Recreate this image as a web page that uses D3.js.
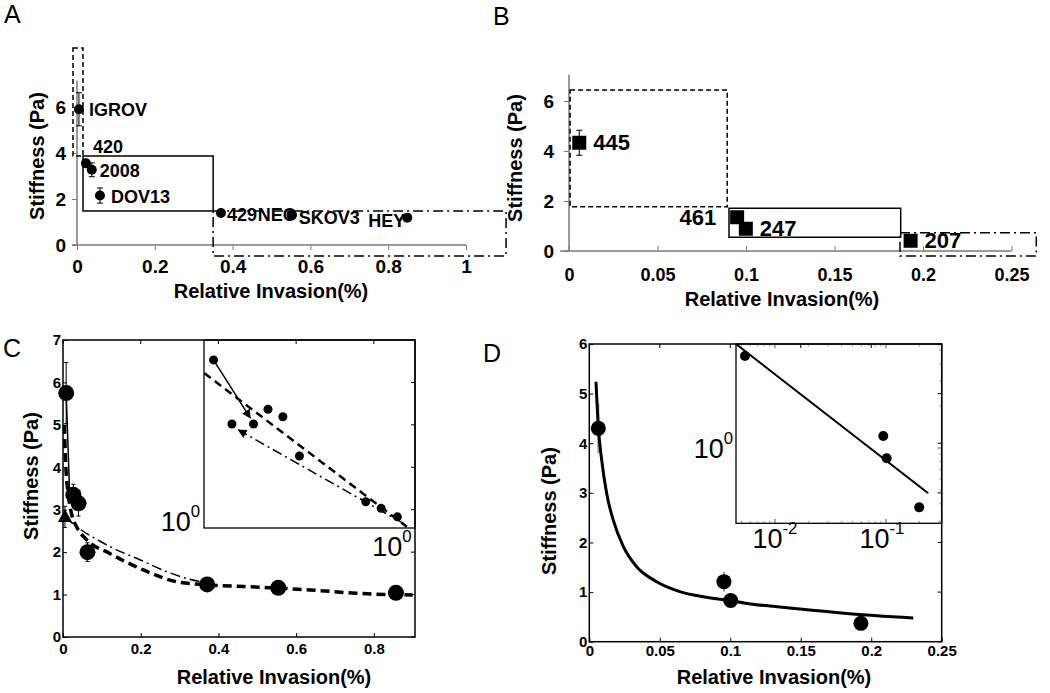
<!DOCTYPE html>
<html><head><meta charset="utf-8">
<script src="https://cdn.jsdelivr.net/npm/d3@7"></script>
<style>body{margin:0;background:#fff} svg{display:block}</style>
</head><body><svg id="c" width="1050" height="693"></svg>
<script>
// ================= DATA =================
// Panel A
const aNames = ["IGROV","420","2008","DOV13","429","NEO","SKOV3","HEY"];
const aInvasion = [0.005,0.023,0.038,0.059,0.37,0.552,0.552,0.849];
const aStiffness = [5.9,3.55,3.27,2.15,1.39,1.3,1.3,1.19];
const aError = [0.72,0,0.3,0.33,0,0,0,0];
const aXTicks = [0,0.2,0.4,0.6,0.8,1];
const aXTickLabels = ["0","0.2","0.4","0.6","0.8","1"];
const aYTicks = [0,2,4,6];
const aRegionX0 = [-0.0103,0.0154,0.35];
const aRegionX1 = [0.0154,0.35,1.103];
const aRegionY0 = [3.87,1.48,-0.48];
const aRegionY1 = [8.57,3.87,1.48];
// Panel B
const bNames = ["445","461","247","207"];
const bInvasion = [0.0058,0.095,0.0999,0.193];
const bStiffness = [4.33,1.35,0.89,0.41];
const bError = [0.5,0,0,0];
const bXTicks = [0,0.05,0.1,0.15,0.2,0.25];
const bXTickLabels = ["0","0.05","0.1","0.15","0.2","0.25"];
const bYTicks = [0,2,4,6];
const bRegionX0 = [0.0006,0.0904,0.187];
const bRegionX1 = [0.0894,0.1874,0.264];
const bRegionY0 = [1.77,0.55,-0.2];
const bRegionY1 = [6.44,1.71,0.73];
// Panel C
const cInvasion = [0.0082,0.0265,0.040,0.063,0.371,0.554,0.857];
const cStiffness = [5.75,3.35,3.15,2.0,1.24,1.16,1.04];
const cError = [0.72,0.25,0.3,0.22,0.08,0.06,0.06];
const cTriInvasion = [0.005];
const cTriStiffness = [2.83];
const cTriError = [0.25];
const cFitDashX = [0.004,0.005,0.008,0.013,0.022,0.035,0.06,0.12,0.207,0.293,0.37,0.464,0.636,0.756,0.9];
const cFitDashY = [5.0,4.6,3.9,3.4,2.9,2.6,2.3,1.97,1.58,1.30,1.23,1.19,1.11,1.03,0.99];
const cFitDashDotX = [0.006,0.014,0.035,0.087,0.13,0.198,0.267,0.318,0.37];
const cFitDashDotY = [2.83,2.76,2.60,2.30,2.09,1.82,1.54,1.38,1.27];
const cSolidX = [0.0082,0.017];
const cSolidY = [5.75,3.4];
const cXTicks = [0,0.2,0.4,0.6,0.8];
const cXTickLabels = ["0","0.2","0.4","0.6","0.8"];
const cYTicks = [0,1,2,3,4,5,6,7];
// Panel C inset (log-log)
const ciInvasion = [0.00516,0.00845,0.01507,0.0222,0.0331,0.0516,0.305,0.46,0.711];
const ciStiffness = [7.1,3.24,3.24,3.88,3.54,2.19,1.25,1.154,1.04];
const ciSolidX = [0.00516,0.0138];
const ciSolidY = [7.1,3.49];
const ciDashX = [0.00404,0.916];
const ciDashY = [6.03,0.921];
const ciDashDotX = [0.836,0.01007];
const ciDashDotY = [0.960,3.01];
// Panel D
const dInvasion = [0.0064,0.0955,0.1003,0.1927];
const dStiffness = [4.3,1.21,0.83,0.37];
const dError = [0.5,0.2,0,0];
const dCurveX = [0.00475,0.0064,0.0088,0.0123,0.017,0.0241,0.0336,0.0478,0.0643,0.0833,0.0998,0.114,0.135,0.16,0.1826,0.2298];
const dCurveY = [5.24,4.33,3.66,2.99,2.45,1.92,1.51,1.21,1.01,0.895,0.827,0.76,0.70,0.63,0.57,0.48];
const dXTicks = [0,0.05,0.1,0.15,0.2,0.25];
const dXTickLabels = ["0","0.05","0.1","0.15","0.2","0.25"];
const dYTicks = [0,1,2,3,4,5,6];
// Panel D inset (log-log)
const diInvasion = [0.00537,0.0946,0.1015,0.1995];
const diStiffness = [4.54,1.218,0.844,0.377];
const diFitX = [0.00446,0.2405];
const diFitY = [5.53,0.475];

const xTitle = "Relative Invasion(%)";
const yTitle = "Stiffness (Pa)";

// ================= DRAWING =================
const FONT = "'Liberation Sans', Arial, Helvetica, sans-serif";
const svg = d3.select("#c");
svg.append("rect").attr("width",1050).attr("height",693).attr("fill","#fff");

const defs = svg.append("defs");
defs.append("marker").attr("id","arr").attr("viewBox","0 0 10 10").attr("refX",9).attr("refY",5)
  .attr("markerWidth",6).attr("markerHeight",6).attr("orient","auto")
  .append("path").attr("d","M0,0 L10,5 L0,10 z").attr("fill","#000");

function styleAxis(g, fs, color) {
  g.select(".domain").remove();
  g.selectAll(".tick line").attr("stroke", color).attr("stroke-width", 1);
  g.selectAll(".tick text").attr("font-family", FONT).attr("font-size", fs)
    .attr("font-weight", "bold").attr("fill", "#000");
}
function txt(x, y, s, fs, opts = {}) {
  const t = svg.append("text").attr("x", x).attr("y", y).text(s)
    .attr("font-family", FONT).attr("font-size", fs)
    .attr("font-weight", opts.weight || "bold")
    .attr("text-anchor", opts.anchor || "middle")
    .attr("dominant-baseline", opts.base || "central")
    .attr("fill", "#000");
  if (opts.rotate) t.attr("transform", `rotate(-90,${x},${y})`);
  return t;
}
function supText(x, y, base, sup, fs, anchor) {
  const t = svg.append("text").attr("x", x).attr("y", y)
    .attr("font-family", FONT).attr("font-size", fs).attr("text-anchor", anchor)
    .attr("dominant-baseline", "central").attr("fill", "#000");
  t.append("tspan").text(base);
  t.append("tspan").text(sup).attr("font-size", fs * 0.62).attr("dy", -fs * 0.42);
  return t;
}
function errBars(g, xs, ys, es, x, y, cap, color, w) {
  xs.forEach((v, i) => {
    if (!es[i]) return;
    g.append("line").attr("x1", x(v)).attr("x2", x(v)).attr("y1", y(ys[i] - es[i])).attr("y2", y(ys[i] + es[i]))
      .attr("stroke", color).attr("stroke-width", w);
    if (cap) [ys[i] - es[i], ys[i] + es[i]].forEach(e =>
      g.append("line").attr("x1", x(v) - cap).attr("x2", x(v) + cap).attr("y1", y(e)).attr("y2", y(e))
        .attr("stroke", color).attr("stroke-width", w));
  });
}
function lineXY(g, xs, ys, x, y, opts) {
  const p = g.append("path").datum(xs.map((v, i) => [v, ys[i]]))
    .attr("d", d3.line().x(d => x(d[0])).y(d => y(d[1])).curve(opts.curve || d3.curveLinear))
    .attr("fill", "none").attr("stroke", "#000").attr("stroke-width", opts.w || 1.5);
  if (opts.dash) p.attr("stroke-dasharray", opts.dash);
  if (opts.marker) p.attr("marker-end", "url(#arr)");
  return p;
}
const AXG = "#7a7a7a";

// ---------- Panel A ----------
{
  const g = svg.append("g");
  const x = d3.scaleLinear().domain([0, 1]).range([77, 466]);
  const y = d3.scaleLinear().domain([0, 6]).range([245, 107]);
  g.append("g").attr("transform", `translate(${x(0)},0)`)
    .call(d3.axisLeft(y).tickValues(aYTicks).tickSize(5).tickPadding(6).tickFormat(d3.format("d")))
    .call(a => styleAxis(a, 19, AXG));
  g.append("g").attr("transform", `translate(0,${y(0)})`)
    .call(d3.axisBottom(x).tickValues(aXTicks).tickSize(5).tickPadding(10).tickFormat((d, i) => aXTickLabels[i]))
    .call(a => styleAxis(a, 19, AXG));
  g.append("line").attr("x1", x(0)).attr("x2", x(0)).attr("y1", y(0)).attr("y2", y(7.15)).attr("stroke", AXG).attr("stroke-width", 1.5);
  g.append("line").attr("x1", x(-0.013)).attr("x2", x(1)).attr("y1", y(0)).attr("y2", y(0)).attr("stroke", AXG).attr("stroke-width", 1.5);
  const dashes = ["5,3", null, "10,4,2,4"];
  aRegionX0.forEach((v, i) => {
    const r = g.append("rect").attr("x", x(v)).attr("y", y(aRegionY1[i]))
      .attr("width", x(aRegionX1[i]) - x(v)).attr("height", y(aRegionY0[i]) - y(aRegionY1[i]))
      .attr("fill", "none").attr("stroke", "#000").attr("stroke-width", 1.5);
    if (dashes[i]) r.attr("stroke-dasharray", dashes[i]);
  });
  errBars(g, aInvasion, aStiffness, aError, x, y, 3, "#000", 1);
  g.selectAll("circle.a").data(aInvasion).join("circle").attr("cx", d => x(d)).attr("cy", (d, i) => y(aStiffness[i])).attr("r", 5).attr("fill", "#000");
  const ldx = [10, 7, 8, 11, 6, 5, 7, -2], ldy = [1, -16, 1, 1, 2, 0, 3, 3];
  const lan = ["start", "start", "start", "start", "start", "end", "start", "end"];
  aNames.forEach((n, i) => txt(x(aInvasion[i]) + ldx[i], y(aStiffness[i]) + ldy[i], n, 18, { anchor: lan[i] }));
  txt(271, 291, xTitle, 20);
  txt(37, 156, yTitle, 20, { rotate: true });
  txt(4, 23, "A", 25, { weight: "normal", anchor: "start", base: "auto" });
}

// ---------- Panel B ----------
{
  const g = svg.append("g");
  const x = d3.scaleLinear().domain([0, 0.25]).range([569, 1011.5]);
  const y = d3.scaleLinear().domain([0, 6]).range([251, 101]);
  g.append("g").attr("transform", `translate(${x(0)},0)`)
    .call(d3.axisLeft(y).tickValues(bYTicks).tickSize(5).tickPadding(10).tickFormat(d3.format("d")))
    .call(a => styleAxis(a, 19, AXG));
  g.append("g").attr("transform", `translate(0,${y(0)})`)
    .call(d3.axisBottom(x).tickValues(bXTicks).tickSize(-5).tickPadding(17).tickFormat((d, i) => bXTickLabels[i]))
    .call(a => styleAxis(a, 18, AXG));
  g.append("line").attr("x1", x(0)).attr("x2", x(0)).attr("y1", y(0)).attr("y2", y(7.05)).attr("stroke", AXG).attr("stroke-width", 1.5);
  g.append("line").attr("x1", x(-0.005)).attr("x2", x(0.25)).attr("y1", y(0)).attr("y2", y(0)).attr("stroke", AXG).attr("stroke-width", 1.5);
  const dashes = ["5,3", null, "10,4,2,4"];
  bRegionX0.forEach((v, i) => {
    const r = g.append("rect").attr("x", x(v)).attr("y", y(bRegionY1[i]))
      .attr("width", x(bRegionX1[i]) - x(v)).attr("height", y(bRegionY0[i]) - y(bRegionY1[i]))
      .attr("fill", "none").attr("stroke", "#000").attr("stroke-width", 1.5);
    if (dashes[i]) r.attr("stroke-dasharray", dashes[i]);
  });
  errBars(g, bInvasion, bStiffness, bError, x, y, 3, "#000", 1);
  g.selectAll("rect.pt").data(bInvasion).join("rect").attr("class", "pt")
    .attr("x", d => x(d) - 7).attr("y", (d, i) => y(bStiffness[i]) - 7).attr("width", 14).attr("height", 14).attr("fill", "#000");
  const ldx = [14, -21, 14, 14], ldy = [0, 0, 0, 0], lan = ["start", "end", "start", "start"];
  bNames.forEach((n, i) => txt(x(bInvasion[i]) + ldx[i], y(bStiffness[i]) + ldy[i], n, 22, { anchor: lan[i] }));
  txt(782, 299, xTitle, 20);
  txt(515, 158, yTitle, 20, { rotate: true });
  txt(493, 25, "B", 25, { weight: "normal", anchor: "start", base: "auto" });
}

// ---------- Panel C ----------
{
  const g = svg.append("g");
  const x = d3.scaleLinear().domain([0, 0.906]).range([63, 415]);
  const y = d3.scaleLinear().domain([0, 7]).range([637, 340]);
  g.append("g").attr("transform", `translate(${x(0)},0)`)
    .call(d3.axisLeft(y).tickValues(cYTicks).tickSize(-4).tickPadding(2).tickFormat(d3.format("d")))
    .call(a => styleAxis(a, 15, "#000"));
  g.append("g").attr("transform", `translate(0,${y(0)})`)
    .call(d3.axisBottom(x).tickValues(cXTicks).tickSize(-4).tickPadding(6).tickFormat((d, i) => cXTickLabels[i]))
    .call(a => styleAxis(a, 15, "#000"));
  lineXY(g, cFitDashX, cFitDashY, x, y, { w: 3.5, dash: "9,5", curve: d3.curveMonotoneX });
  lineXY(g, cFitDashDotX, cFitDashDotY, x, y, { w: 1.5, dash: "10,4,2,4", curve: d3.curveMonotoneX });
  lineXY(g, cSolidX, cSolidY, x, y, { w: 1.5 });
  errBars(g, cInvasion, cStiffness, cError, x, y, 2, "#000", 1);
  errBars(g, cTriInvasion, cTriStiffness, cTriError, x, y, 2, "#000", 1);
  g.selectAll("circle.c").data(cInvasion).join("circle").attr("cx", d => x(d)).attr("cy", (d, i) => y(cStiffness[i])).attr("r", 8).attr("fill", "#000");
  g.selectAll("path.tri").data(cTriInvasion).join("path")
    .attr("d", (d, i) => `M${x(d)},${y(cTriStiffness[i]) - 8} L${x(d) + 7},${y(cTriStiffness[i]) + 5} L${x(d) - 7},${y(cTriStiffness[i]) + 5} Z`)
    .attr("fill", "#000");
  // inset
  const xi = d3.scaleLog().domain([0.004, 1.14]).range([204, 415]);
  const yi = d3.scaleLog().domain([0.907, 9.06]).range([528, 340]);
  g.append("rect").attr("x", 204).attr("y", 340).attr("width", 211).attr("height", 188).attr("fill", "#fff");
  const gi = g.append("g");
  gi.append("clipPath").attr("id", "clipC").append("rect").attr("x", 204).attr("y", 340).attr("width", 211).attr("height", 188);
  const gic = gi.append("g").attr("clip-path", "url(#clipC)");
  lineXY(gic, ciDashX, ciDashY, xi, yi, { w: 2.5, dash: "8,5" });
  lineXY(gi, ciDashDotX, ciDashDotY, xi, yi, { w: 1.5, dash: "10,4,2,4", marker: true });
  lineXY(gi, ciSolidX, ciSolidY, xi, yi, { w: 1.5, marker: true });
  gi.selectAll("circle").data(ciInvasion).join("circle").attr("cx", d => xi(d)).attr("cy", (d, i) => yi(ciStiffness[i])).attr("r", 4.5).attr("fill", "#000");
  gi.append("rect").attr("x", 204).attr("y", 340).attr("width", 211).attr("height", 188).attr("fill", "none").attr("stroke", "#000").attr("stroke-width", 1.3);
  supText(200, 522, "10", "0", 27, "end");
  supText(392, 547, "10", "0", 27, "middle");
  g.append("rect").attr("x", 63).attr("y", 340).attr("width", 352).attr("height", 297).attr("fill", "none").attr("stroke", "#000").attr("stroke-width", 1.5);
  cXTicks.forEach(t => g.append("line").attr("x1", x(t)).attr("x2", x(t)).attr("y1", 340).attr("y2", 344).attr("stroke", "#000"));
  cYTicks.forEach(t => g.append("line").attr("x1", 415).attr("x2", 411).attr("y1", y(t)).attr("y2", y(t)).attr("stroke", "#000"));
  txt(274, 677, xTitle, 20);
  txt(31, 476, yTitle, 20, { rotate: true });
  txt(3, 357, "C", 25, { weight: "normal", anchor: "start", base: "auto" });
}

// ---------- Panel D ----------
{
  const g = svg.append("g");
  const x = d3.scaleLinear().domain([0, 0.25]).range([589.3, 941.7]);
  const y = d3.scaleLinear().domain([0, 6]).range([641.7, 344]);
  g.append("g").attr("transform", `translate(${x(0)},0)`)
    .call(d3.axisLeft(y).tickValues(dYTicks).tickSize(-4).tickPadding(2).tickFormat(d3.format("d")))
    .call(a => styleAxis(a, 15, "#000"));
  g.append("g").attr("transform", `translate(0,${y(0)})`)
    .call(d3.axisBottom(x).tickValues(dXTicks).tickSize(-4).tickPadding(4).tickFormat((d, i) => dXTickLabels[i]))
    .call(a => styleAxis(a, 15, "#000"));
  errBars(g, dInvasion, dStiffness, dError, x, y, 0, "#9a9a9a", 2);
  lineXY(g, dCurveX, dCurveY, x, y, { w: 3, curve: d3.curveMonotoneX });
  g.selectAll("circle.d").data(dInvasion).join("circle").attr("cx", d => x(d)).attr("cy", (d, i) => y(dStiffness[i])).attr("r", 7.5).attr("fill", "#000");
  // inset
  const xi = d3.scaleLog().domain([0.00446, 0.318]).range([736, 941.7]);
  const yi = d3.scaleLog().domain([0.29, 5.53]).range([523.3, 344]);
  g.append("rect").attr("x", 736).attr("y", 344).attr("width", 205.7).attr("height", 179.3).attr("fill", "#fff");
  const gi = g.append("g");
  [0.005,0.006,0.007,0.008,0.009,0.02,0.03,0.04,0.05,0.06,0.07,0.08,0.09,0.2,0.3].forEach(t => {
    [[523.3, 520.8], [344, 346.5]].forEach(([a, b]) => gi.append("line").attr("x1", xi(t)).attr("x2", xi(t)).attr("y1", a).attr("y2", b).attr("stroke", "#888").attr("stroke-width", 0.8));
  });
  [0.01, 0.1].forEach(t => {
    [[523.3, 519], [344, 348.3]].forEach(([a, b]) => gi.append("line").attr("x1", xi(t)).attr("x2", xi(t)).attr("y1", a).attr("y2", b).attr("stroke", "#555").attr("stroke-width", 1));
  });
  [0.3,0.4,0.5,0.6,0.7,0.8,0.9,2,3,4,5].forEach(t => {
    gi.append("line").attr("x1", 941.7).attr("x2", 939.2).attr("y1", yi(t)).attr("y2", yi(t)).attr("stroke", "#888").attr("stroke-width", 0.8);
  });
  gi.append("line").attr("x1", 941.7).attr("x2", 937.5).attr("y1", yi(1)).attr("y2", yi(1)).attr("stroke", "#555");
  lineXY(gi, diFitX, diFitY, xi, yi, { w: 2 });
  gi.selectAll("circle").data(diInvasion).join("circle").attr("cx", d => xi(d)).attr("cy", (d, i) => yi(diStiffness[i])).attr("r", 5).attr("fill", "#000");
  gi.append("rect").attr("x", 736).attr("y", 344).attr("width", 205.7).attr("height", 179.3).attr("fill", "none").attr("stroke", "#000").attr("stroke-width", 1.3);
  supText(733, 449, "10", "0", 27, "end");
  supText(xi(0.01), 539, "10", "-2", 27, "middle");
  supText(xi(0.1) - 4, 539, "10", "-1", 27, "middle");
  g.append("rect").attr("x", 589.3).attr("y", 344).attr("width", 352.4).attr("height", 297.7).attr("fill", "none").attr("stroke", "#000").attr("stroke-width", 1.5);
  dXTicks.forEach(t => g.append("line").attr("x1", x(t)).attr("x2", x(t)).attr("y1", 344).attr("y2", 348).attr("stroke", "#000"));
  dYTicks.forEach(t => g.append("line").attr("x1", 941.7).attr("x2", 937.7).attr("y1", y(t)).attr("y2", y(t)).attr("stroke", "#000"));
  txt(774, 677, xTitle, 20);
  txt(549, 511, yTitle, 20, { rotate: true });
  txt(483, 362, "D", 25, { weight: "normal", anchor: "start", base: "auto" });
}
</script></body></html>
